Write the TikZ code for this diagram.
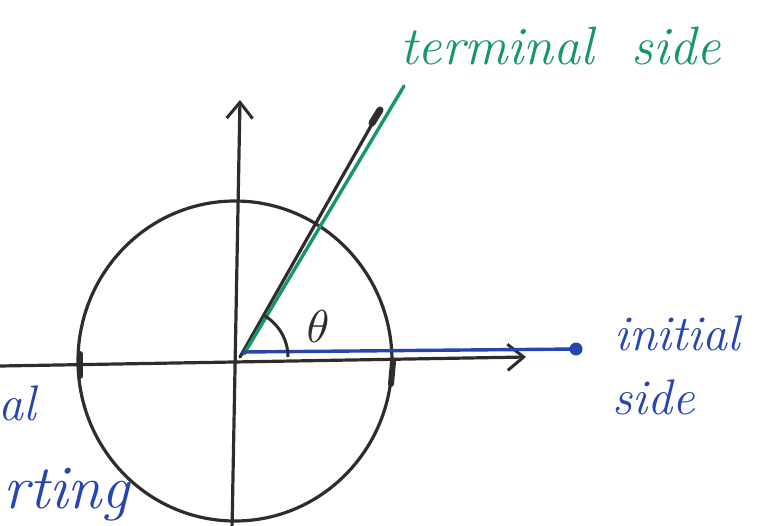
\documentclass[tikz,border=0pt]{standalone}
\usetikzlibrary{arrows.meta}
\definecolor{inkblack}{RGB}{48,44,44}
\definecolor{inkgreen}{RGB}{22,150,105}
\definecolor{inkblue}{RGB}{38,68,178}
\tikzset{
  axis/.style={draw=inkblack, line width=3.2pt, line cap=round},
  barb/.style={-{Straight Barb[length=16pt,width=26pt,line width=3pt]}},
  greenline/.style={draw=inkgreen, line width=3.4pt, line cap=round},
  blueline/.style={draw=inkblue, line width=3.4pt, line cap=round},
  greentext/.style={text=inkgreen, font=\fontsize{54}{60}\selectfont\itshape, inner sep=0pt},
  bluetext/.style={text=inkblue, font=\fontsize{50}{56}\selectfont\itshape, inner sep=0pt},
  tick/.style={draw=inkblack, line width=6pt, line cap=round}
}
\begin{document}
\begin{tikzpicture}[x=1pt,y=-1pt]
\useasboundingbox (0,0) rectangle (768,525);
\clip (0,0) rectangle (768,525);
% coordinates
\coordinate (O) at (240,357);
\coordinate (xl) at (0,366);
\coordinate (xr) at (526,357);
\coordinate (yb) at (232,530);
\coordinate (yt) at (240,100);
\coordinate (tend) at (380,110);
\coordinate (gs) at (244,354);
\coordinate (ge) at (404,86);
\coordinate (bs) at (243,352);
\coordinate (be) at (576,349);
% circle
\draw[draw=inkblack, line width=3.2pt] (235,361) ellipse [x radius=157, y radius=160];
% axes
\draw[axis, barb] (xl) -- (xr);
\draw[axis, barb] (yb) -- (yt);
% ticks
\draw[tick] (80,354) -- (80,376);
\draw[tick] (393,362) -- (391,384);
% terminal side
\draw[axis] (O) -- (tend);
\draw[draw=inkblack, line width=7pt, line cap=round] (372,123) -- (380,110);
\draw[greenline] (gs) -- (ge);
% initial side
\draw[blueline] (bs) -- (be);
\node[circle, fill=inkblue, minimum size=13pt, inner sep=0pt] (star) at (be) {};
% angle arc
\draw[draw=inkblack, line width=3pt] (O) ++(48,0) arc[start angle=0, end angle=-62, radius=48];
\node[text=inkblack, scale=4.6, inner sep=0pt] (theta) at (318,327) {$\theta$};
% labels
\node[greentext, anchor=base west] (term) at (400,64) {terminal\ \ side};
\node[bluetext, anchor=base west] (init) at (614,350) {initial};
\node[bluetext, anchor=base west] (side) at (612,414) {side};
\node[bluetext, anchor=base east] (al) at (36,420) {al};
\node[bluetext, font=\fontsize{62}{66}\selectfont\itshape, anchor=base east] (rting) at (130,508) {rting};
\end{tikzpicture}
\end{document}
